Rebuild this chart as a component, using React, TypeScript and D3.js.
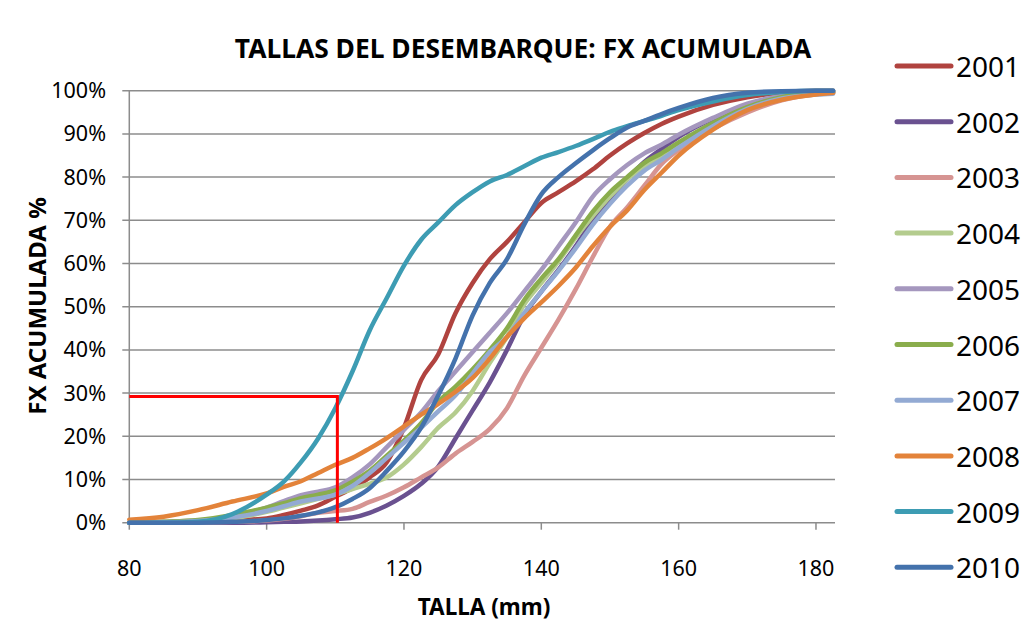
import * as d3 from 'd3';
import { useEffect, useRef } from 'react';

// talla (mm) sample points shared by every year
const tallas = [80, 85, 90, 95, 100, 102.5, 105, 107.5, 110, 112.5, 115, 117.5, 120, 122.5, 125, 127.5, 130, 132.5, 135, 137.5, 140, 142.5, 145, 147.5, 150, 152.5, 155, 157.5, 160, 165, 170, 175, 180, 182.5];

// cumulative frequency, %
const fx2001 = [0, 0, 0.2, 0.5, 1, 1.8, 2.8, 4, 6, 8, 10.5, 14, 22, 33, 39, 48.5, 55.5, 61, 65, 69.5, 74, 76.5, 79, 81.8, 85, 87.8, 90.2, 92.3, 94, 96.7, 98.5, 99.5, 100, 100];
const fx2002 = [0, 0, 0, 0, 0.1, 0.2, 0.3, 0.5, 0.8, 1.2, 2.3, 4, 6.2, 9, 13, 19.5, 26, 32.5, 40, 48, 53.5, 58.5, 64, 70, 75, 79.5, 83.5, 86.5, 89.3, 93.5, 96.5, 98.5, 99.5, 99.7];
const fx2003 = [0, 0, 0, 0.2, 0.5, 0.9, 1.5, 2.3, 2.7, 3.2, 4.8, 6.3, 8.2, 10.5, 12.8, 16, 18.7, 21.7, 26.5, 34, 40.5, 47, 54, 61.5, 68.5, 73, 78, 83, 86.3, 91.2, 95, 97.8, 99.2, 99.5];
const fx2004 = [0, 0, 0.3, 1, 2.5, 3.5, 4.5, 5.5, 6.5, 7.8, 9, 10.5, 13.5, 17.5, 22, 25.5, 30.5, 37, 43, 50.5, 55.5, 60.5, 66, 71, 75.5, 79.5, 82.5, 85, 87.5, 92.2, 96, 98.5, 99.5, 99.7];
const fx2005 = [0, 0.2, 0.5, 1.5, 3.5, 5, 6.4, 7.2, 8.2, 10.5, 13.5, 17.5, 21.5, 25.5, 30.5, 35, 39.5, 44, 48.5, 53.5, 58.5, 64, 69.5, 75.5, 79.5, 82.8, 85.5, 87.5, 89.8, 93.7, 97, 98.8, 99.5, 99.7];
const fx2006 = [0, 0.2, 0.6, 1.8, 3.5, 4.5, 5.7, 6.5, 7.5, 9.5, 12, 15.5, 19, 23, 28, 31.5, 35.5, 40, 45, 51.5, 56.5, 61, 66.5, 72, 76.5, 80, 83.3, 85.5, 88, 92.5, 96.2, 98.5, 99.5, 99.7];
const fx2007 = [0, 0.1, 0.4, 1.2, 2.7, 3.8, 4.9, 5.6, 6.5, 8.5, 11.5, 15, 18.5, 22, 25.8, 29.5, 34.5, 39.5, 43, 48.5, 53.5, 58.3, 63.5, 69, 73.8, 78, 81.5, 84, 86.8, 91.8, 95.8, 98.2, 99.1, 99.3];
const fx2008 = [0.7, 1.4, 2.9, 4.9, 6.8, 8.3, 9.6, 11.5, 13.4, 15, 17.2, 19.6, 22.3, 25, 27.5, 30.3, 33.5, 38, 43, 47.3, 51, 54.8, 59, 64, 68.5, 72.3, 77, 81, 85, 91, 95.5, 97.9, 99.1, 99.5];
const fx2009 = [0, 0, 0.2, 2, 6.5, 9.5, 14, 19.5, 26.5, 35, 44.5, 52, 59.5, 65.5, 69.5, 73.5, 76.5, 79, 80.5, 82.5, 84.5, 85.8, 87.2, 88.8, 90.5, 91.8, 93, 94.2, 95.5, 97.5, 99, 99.7, 100, 100];
const fx2010 = [0, 0, 0, 0.2, 0.6, 1, 1.6, 2.4, 3.6, 5.5, 8, 12, 16.5, 22, 29.5, 38, 48, 55.5, 61, 69, 76, 80, 83.2, 86.2, 89, 91.5, 93, 94.6, 96, 98.3, 99.5, 99.9, 100, 100];

const years = ['2001', '2002', '2003', '2004', '2005', '2006', '2007', '2008', '2009', '2010'];
const valores = [fx2001, fx2002, fx2003, fx2004, fx2005, fx2006, fx2007, fx2008, fx2009, fx2010];
const colores = ['#b0433f', '#6a5190', '#d69492', '#b4cc8e', '#a597be', '#8aad4c', '#93aad3', '#e3833a', '#3d9cb3', '#4472ac'];

const yTicks = [0, 10, 20, 30, 40, 50, 60, 70, 80, 90, 100];
const xTicks = [80, 100, 120, 140, 160, 180];

// red reference marks (talla 110 -> ~29%)
const refTalla = 110.3;
const refPct = 29.2;

const FONT = "'Noto Sans', 'Open Sans', sans-serif";

export default function App() {
    const svgRef = useRef<SVGSVGElement>(null);

    useEffect(() => {
        if (!svgRef.current) return;
        const svg = d3.select(svgRef.current);
        svg.selectAll('*').remove();

        const left = 129.3, right = 835, top = 90.7, bottom = 522.7;
        const x = d3.scaleLinear().domain([80, 182.77]).range([left, right]);
        const y = d3.scaleLinear().domain([0, 100]).range([bottom, top]);

        // gridlines
        svg.append('g')
            .selectAll('line')
            .data(yTicks)
            .join('line')
            .attr('x1', left - 7)
            .attr('x2', right)
            .attr('y1', (d) => y(d))
            .attr('y2', (d) => y(d))
            .attr('stroke', '#8c8c8c')
            .attr('stroke-width', 1.5);

        // y axis line
        svg.append('line')
            .attr('x1', left).attr('x2', left)
            .attr('y1', top).attr('y2', bottom)
            .attr('stroke', '#8c8c8c').attr('stroke-width', 1.5);

        // x ticks
        svg.append('g')
            .selectAll('line')
            .data(xTicks)
            .join('line')
            .attr('x1', (d) => x(d)).attr('x2', (d) => x(d))
            .attr('y1', bottom).attr('y2', bottom + 7)
            .attr('stroke', '#8c8c8c').attr('stroke-width', 1.5);

        svg.append('g')
            .selectAll('text')
            .data(yTicks)
            .join('text')
            .attr('x', 106)
            .attr('y', (d) => y(d) + 7.5)
            .attr('text-anchor', 'end')
            .attr('font-family', FONT)
            .attr('font-size', 21.5)
            .attr('fill', '#000')
            .text((d) => d + '%');

        svg.append('g')
            .selectAll('text')
            .data(xTicks)
            .join('text')
            .attr('x', (d) => x(d))
            .attr('y', 576)
            .attr('text-anchor', 'middle')
            .attr('font-family', FONT)
            .attr('font-size', 21.5)
            .attr('fill', '#000')
            .text((d) => d);

        // series
        const line = d3
            .line<number>()
            .x((_, i) => x(tallas[i]))
            .y((d) => y(d))
            .curve(d3.curveMonotoneX);

        svg.append('g')
            .selectAll('path')
            .data(valores)
            .join('path')
            .attr('d', (d) => line(d))
            .attr('fill', 'none')
            .attr('stroke', (_, i) => colores[i])
            .attr('stroke-width', 4.5)
            .attr('stroke-linejoin', 'round')
            .attr('stroke-linecap', 'round');

        // red reference lines
        svg.append('path')
            .attr('d', `M${x(80)},${y(refPct)}H${x(refTalla)}V${y(0)}`)
            .attr('fill', 'none')
            .attr('stroke', '#ff0000')
            .attr('stroke-width', 3);

        // titles
        svg.append('text')
            .attr('x', 523)
            .attr('y', 58)
            .attr('text-anchor', 'middle')
            .attr('font-family', FONT)
            .attr('font-weight', 'bold')
            .attr('font-size', 26.4)
            .text('TALLAS DEL DESEMBARQUE: FX ACUMULADA');

        svg.append('text')
            .attr('transform', 'translate(46,306) rotate(-90)')
            .attr('text-anchor', 'middle')
            .attr('font-family', FONT)
            .attr('font-weight', 'bold')
            .attr('font-size', 24)
            .text('FX ACUMULADA %');

        svg.append('text')
            .attr('x', 484)
            .attr('y', 615)
            .attr('text-anchor', 'middle')
            .attr('font-family', FONT)
            .attr('font-weight', 'bold')
            .attr('font-size', 22.5)
            .text('TALLA (mm)');

        // legend
        const leg = svg
            .append('g')
            .selectAll('g')
            .data(years)
            .join('g')
            .attr('transform', (_, i) => `translate(897,${66 + i * 55.7})`);
        leg.append('line')
            .attr('x1', 0).attr('x2', 54)
            .attr('stroke', (_, i) => colores[i])
            .attr('stroke-width', 5)
            .attr('stroke-linecap', 'round');
        leg.append('text')
            .attr('x', 59)
            .attr('y', 11)
            .attr('font-family', FONT)
            .attr('font-size', 28)
            .text((d) => d);
    }, []);

    return (
        <svg
            ref={svgRef}
            width={1029}
            height={624}
            style={{ position: 'absolute', left: 0, top: 0, background: '#fff' }}
        />
    );
}
